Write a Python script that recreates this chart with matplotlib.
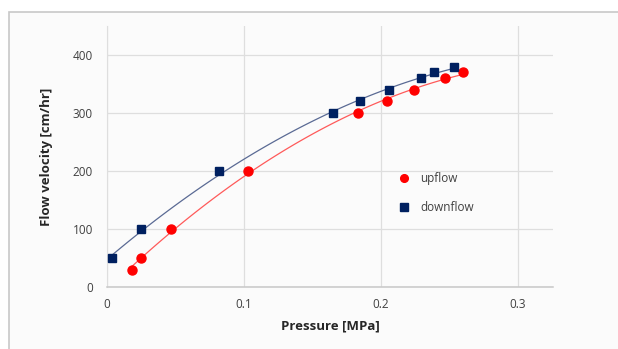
import numpy as np
import matplotlib
matplotlib.use('Agg')
import matplotlib.pyplot as plt
from matplotlib.patches import Rectangle

# data
up_p = [0.018, 0.025, 0.047, 0.103, 0.183, 0.204, 0.224, 0.247, 0.260]
up_v = [30, 50, 100, 200, 300, 320, 340, 360, 370]
down_p = [0.004, 0.025, 0.082, 0.165, 0.185, 0.206, 0.229, 0.239, 0.253]
down_v = [50, 100, 200, 300, 320, 340, 360, 370, 380]
x_ticks = [0, 0.1, 0.2, 0.3]
x_labels = ['0', '0.1', '0.2', '0.3']
y_ticks = [0, 100, 200, 300, 400]

plt.rcParams['font.family'] = ['Open Sans', 'DejaVu Sans']

fig = plt.figure(figsize=(6.18, 3.49), dpi=100)
fig.patch.set_facecolor('white')
# outer frame of the chart object
fig.patches.append(Rectangle((9 / 618, -0.05), 1.1, 1 - 12 / 349 + 0.05,
                             transform=fig.transFigure, facecolor='#fbfbfb',
                             edgecolor='#c8c8c8', linewidth=1.2, zorder=-10))

ax = fig.add_axes([107 / 618, 1 - 287 / 349, 446 / 618, 261 / 349])
ax.set_facecolor('#fbfbfb')

# polynomial trendlines (order 2), as in the spreadsheet
cu = np.polyfit(up_p, up_v, 2)
xu = np.linspace(min(up_p), max(up_p), 100)
ax.plot(xu, np.polyval(cu, xu), color='#ff5a5a', lw=0.9, zorder=2)
cd = np.polyfit(down_p, down_v, 2)
xd = np.linspace(0, max(down_p), 100)
ax.plot(xd, np.polyval(cd, xd), color='#5a6a94', lw=0.9, zorder=2)

ax.plot(up_p, up_v, 'o', color='#ff0000', ms=6.5, mec='#ff0000', label='upflow', zorder=3)
ax.plot(down_p, down_v, 's', color='#002060', ms=6, mec='#002060', label='downflow', zorder=3)

ax.set_xlim(0, 0.3255)
ax.set_ylim(0, 450)
ax.set_xticks(x_ticks)
ax.set_xticklabels(x_labels)
ax.set_yticks(y_ticks)
ax.grid(True, color='#dedede', lw=0.9)
ax.set_axisbelow(True)
for s in ['top', 'right']:
    ax.spines[s].set_visible(False)
ax.spines['left'].set_color('#dedede')
ax.spines['bottom'].set_color('#c8c8c8')
ax.spines['bottom'].set_linewidth(1.1)
ax.tick_params(length=0, labelsize=8.5, labelcolor='#404040', pad=8)
ax.tick_params(axis='y', pad=10)

ax.set_xlabel('Pressure [MPa]', fontsize=9.5, fontweight='bold', color='#262626', labelpad=6)
ax.set_ylabel('Flow velocity [cm/hr]', fontsize=9.5, fontweight='bold', color='#262626', labelpad=14)

ax.legend(loc='center left', bbox_to_anchor=(0.615, 0.36), frameon=False,
          fontsize=8.5, labelspacing=1.3, handletextpad=0.4, markerscale=0.85,
          labelcolor='#404040')

plt.savefig('out.png', dpi=100)
